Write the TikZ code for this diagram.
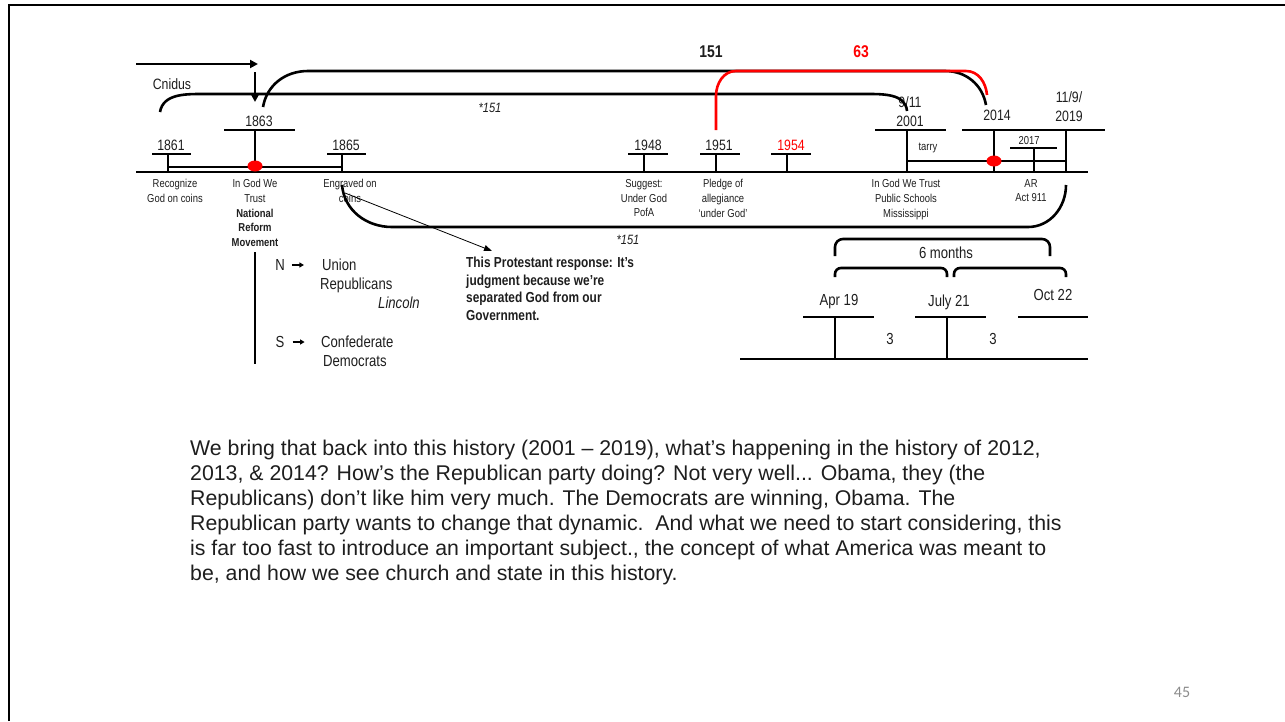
\documentclass[tikz,border=0pt]{standalone}
\usepackage{fontspec}
\setmainfont[FakeStretch=0.82]{Liberation Sans}
\newfontfamily\anchafont{Liberation Sans}
\newfontfamily\pagfont{Carlito}
\usepackage{tikz}
\usetikzlibrary{shapes.geometric,arrows.meta,positioning,calc}
\definecolor{rojo}{HTML}{FF0000}
\definecolor{gris}{HTML}{8C8C8C}
\definecolor{tinta}{HTML}{1E1E1E}
\newcommand{\fsz}[2]{\fontsize{#1}{#2}\selectfont}
\tikzset{
  linea/.style={line width=2.6pt,black},
  linear/.style={line width=2.6pt,rojo},
  flecha/.style={line width=2.6pt,-{Triangle[length=8pt,width=8pt]}},
  flechita/.style={line width=1.6pt,-{Triangle[length=4.5pt,width=5pt]}},
  flechafina/.style={line width=0.8pt,-{Triangle[length=8pt,width=6pt]}},
  anio/.style={font=\fsz{15}{19},text=tinta,align=center,inner sep=0pt},
  etiqueta/.style={font=\fsz{11.5}{14.8},text=tinta,align=center,inner sep=0pt,anchor=north},
  texto/.style={font=\fsz{16}{20},text=tinta,inner sep=0pt},
  nota/.style={font=\fsz{14.5}{17.6}\bfseries,text=tinta,align=left,inner sep=0pt,anchor=north west},
  cursiva/.style={font=\fsz{13.5}{16}\itshape,text=tinta,inner sep=0pt},
  punto/.style={ellipse,fill=rojo,minimum width=15pt,minimum height=11pt,inner sep=0pt},
}
\begin{document}
\begin{tikzpicture}[x=1pt,y=-1pt]
  \useasboundingbox (0,0) rectangle (1285,721);
  % marco
  \draw[line width=2.8pt] (9,721) -- (9,5) -- (1285,5);
  % linea de tiempo
  \coordinate (ini) at (136,172);
  \coordinate (fin) at (1088,172);
  \draw[linea] (ini) -- (fin);
  \foreach \s/\a/\b/\y in {168/152/191/154, 342/327/366/154, 644/628/668/154, 716/700/740/154,
      787/771/811/154, 255/224/295/130, 907/875/946/130, 994/962/1033/130, 1066/1033/1105/130,
      1034/1010/1057/148}
    \draw[linea] (\a,\y) -- (\b,\y) (\s,\y) -- (\s,172);
  \draw[linea] (168,167) -- (342,167);
  \draw[linea] (907,161) -- (1066,161);
  \node[punto] (p1863) at (255,166) {};
  \node[punto] (p2014) at (994,161) {};
  % anios
  \node[anio] (a1861) at (171,145) {1861};
  \node[anio] (a1863) at (259,121) {1863};
  \node[anio] (a1865) at (346,145) {1865};
  \node[anio] (a1948) at (648,145) {1948};
  \node[anio] (a1951) at (719,145) {1951};
  \node[anio,text=rojo] (a1954) at (791,145) {1954};
  \node[anio] (a2001) at (910,112) {9/11\\2001};
  \node[anio] (a2014) at (997,115) {2014};
  \node[anio] (a2019) at (1069,107) {11/9/\\2019};
  \node[anio,font=\fsz{11.5}{14}] (a2017) at (1029,141) {2017};
  \node[anio,font=\fsz{11.5}{14}] (tarry) at (928,148) {tarry};
  % etiquetas
  \node[etiqueta] (e1861) at (175,179) {Recognize\\God on coins};
  \node[etiqueta] (e1863) at (255,179) {In God We\\Trust\\\textbf{National}\\\textbf{Reform}\\\textbf{Movement}};
  \node[etiqueta] (e1865) at (350,179) {Engraved on\\coins};
  \node[etiqueta] (e1948) at (644,179) {Suggest:\\Under God\\PofA};
  \node[etiqueta] (e1951) at (723,179) {Pledge of\\allegiance\\‘under God’};
  \node[etiqueta] (e2001) at (906,179) {In God We Trust\\Public Schools\\Mississippi};
  \node[etiqueta] (e2019) at (1031,179) {AR\\Act 911};
  % arriba
  \node[anio,font=\fsz{17}{20}\bfseries] (n151) at (711,52) {151};
  \node[anio,font=\fsz{17}{20}\bfseries,text=rojo] (n63) at (861,52) {63};
  \node[anio] (cnidus) at (172,84) {Cnidus};
  \node[cursiva] (s151a) at (490,108) {*151};
  \node[cursiva] (s151b) at (628,240) {*151};
  \coordinate (fa) at (136,64);
  \coordinate (fb) at (258,64);
  \coordinate (fc) at (255,72);
  \coordinate (fd) at (255,102);
  \draw[flecha] (fa) -- (fb);
  \draw[flecha] (fc) -- (fd);
  \draw[linea] (160,112) to[out=80,in=180] (205,94) -- (865,94) to[out=0,in=95] (907,111);
  \draw[linea] (263,107) to[out=80,in=180] (308,71) -- (945,71) to[out=0,in=100] (986,105);
  \draw[linear] (716,130) -- (716,96) to[out=90,in=180] (736,71) -- (966,71) to[out=0,in=95] (987,95);
  \draw[linea] (342,185) to[out=-85,in=180] (392,227) -- (1028,227) to[out=0,in=-90] (1066,185);
  % flecha a la nota
  \coordinate (engr) at (345,193);
  \node[nota] (protest) at (466,257) {This Protestant response: It’s\\judgment because we’re\\separated God from our\\Government.};
  \draw[flechafina] (engr) -- (492,251);
  % norte y sur
  \draw[linea] (255,252) -- (255,364);
  \node[texto] (nN) at (280,265) {N};
  \node[texto] (nS) at (280,342) {S};
  \draw[flechita] ([xshift=7pt]nN.east) -- ++(12,0);
  \draw[flechita] ([xshift=8pt]nS.east) -- ++(12,0);
  \node[texto,anchor=west] (union) at (322,265) {Union};
  \node[texto,anchor=west] (repub) at (320,285) {Republicans};
  \node[texto,anchor=east,font=\fsz{16}{20}\itshape] (lincoln) at (420,303) {Lincoln};
  \node[texto,anchor=west] (confed) at (321,342) {Confederate};
  \node[texto,anchor=west] (democ) at (323,361) {Democrats};
  % seis meses
  \draw[linea,rounded corners=8pt] (835,256) |- (946,239) -| (1050,256);
  \draw[linea,rounded corners=6pt] (835,277) |- (891,268) -| (947,277);
  \draw[linea,rounded corners=6pt] (954,277) |- (1010,268) -| (1066,277);
  \node[texto] (meses) at (946,253) {6 months};
  \node[texto] (abr) at (839,302) {Apr 19};
  \node[texto] (jul) at (949,302) {July 21};
  \node[texto] (oct) at (1053,295) {Oct 22};
  \draw[linea] (803,317) -- (874,317) (835,317) -- (835,359);
  \draw[linea] (915,317) -- (986,317) (947,317) -- (947,359);
  \draw[linea] (1018,317) -- (1088,317);
  \draw[linea] (740,359) -- (1088,359);
  \node[texto] (tres1) at (890,339) {3};
  \node[texto] (tres2) at (993,339) {3};
  % parrafo
  \node[font=\anchafont\fsz{21.3}{25},text=tinta,align=left,inner sep=0pt,anchor=north west] (parrafo) at (190,440)
    {We bring that back into this history (2001 – 2019), what’s happening in the history of 2012,\\
     2013, \& 2014? How’s the Republican party doing? Not very well... Obama, they (the\\
     Republicans) don’t like him very much. The Democrats are winning, Obama. The\\
     Republican party wants to change that dynamic.\ \ And what we need to start considering, this\\
     is far too fast to introduce an important subject., the concept of what America was meant to\\
     be, and how we see church and state in this history.};
  \node[font=\pagfont\fsz{16}{18},text=gris,inner sep=0pt] (pag) at (1182,692) {45};
\end{tikzpicture}
\end{document}
